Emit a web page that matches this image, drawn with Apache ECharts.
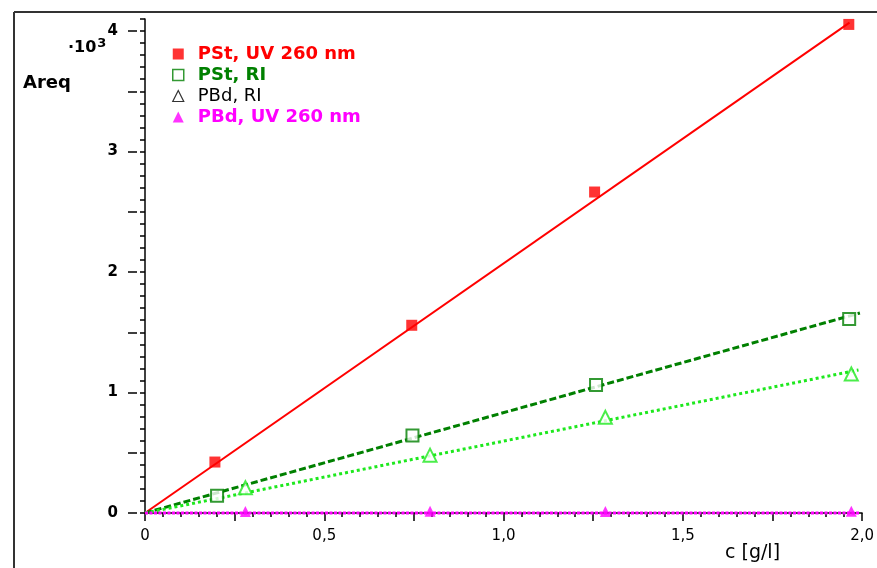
<!DOCTYPE html>
<html>
<head>
<meta charset="utf-8">
<script src="https://cdn.jsdelivr.net/npm/echarts@6/dist/echarts.min.js"></script>
<style>html,body{margin:0;padding:0;background:#fff;}#c{width:877px;height:568px;}</style>
</head>
<body>
<div id="c"></div>
<script>
// ---- data ----
const seriesNames = ['PSt, UV 260 nm', 'PSt, RI', 'PBd, RI', 'PBd, UV 260 nm'];
const pstUvX = [0.195, 0.744, 1.254, 1.963];
const pstUvY = [0.423, 1.558, 2.664, 4.055];
const pstRiX = [0.201, 0.746, 1.258, 1.964];
const pstRiY = [0.143, 0.643, 1.062, 1.610];
const pbdRiX = [0.280, 0.795, 1.284, 1.970];
const pbdRiY = [0.210, 0.480, 0.794, 1.154];
const pbdUvX = [0.280, 0.795, 1.284, 1.970];
const pbdUvY = [0.012, 0.015, 0.012, 0.015];
// regression lines (start / end)
const pstUvFitX = [0, 1.965];
const pstUvFitY = [0, 4.07];
const pstRiFitX = [0, 1.994];
const pstRiFitY = [0, 1.66];
const pbdRiFitX = [0, 1.99];
const pbdRiFitY = [0, 1.187];
const pbdUvFitX = [0, 1.995];
const pbdUvFitY = [0, 0];
// tick labels
const xTickLabels = ['0', '0,5', '1,0', '1,5', '2,0'];
const yTickLabels = ['0', '1', '2', '3', '4'];

const zip = (xs, ys) => xs.map((x, i) => [x, ys[i]]);
const yMinorTicks = Array.from({length: 42}, (_, i) => +(i * 0.1).toFixed(1));
const yMajorTicks = Array.from({length: 9}, (_, i) => i * 0.5);
const yLabelVals = yTickLabels.map(Number);

const RED = '#ff0000', DKGREEN = '#008000', LTGREEN = '#1ee81e', MAGENTA = '#ff00ff';
const FONT = 'DejaVu Sans';

const chart = echarts.init(document.getElementById('c'));
chart.setOption({
  animation: false,
  backgroundColor: '#ffffff',
  grid: {left: 145, right: 13, top: 19, bottom: 55, containLabel: false},
  xAxis: {
    type: 'value', min: 0, max: 2, interval: 0.25, offset: 6,
    splitLine: {show: false},
    axisLine: {show: true, lineStyle: {color: '#000', width: 1.5}},
    axisTick: {show: true, length: 8, lineStyle: {color: '#000', width: 1.5}},
    minorTick: {show: true, splitNumber: 5, length: 4, lineStyle: {color: '#000', width: 1.5}},
    minorSplitLine: {show: false},
    axisLabel: {
      margin: 10, color: '#000', fontFamily: FONT, fontSize: 15,
      formatter: v => {
        const k = Math.round(v * 2);
        return Math.abs(v * 2 - k) < 1e-6 ? xTickLabels[k] : '';
      }
    }
  },
  yAxis: [{
    type: 'value', min: 0, max: 4.1, offset: 8,
    splitLine: {show: false},
    axisLine: {show: true, lineStyle: {color: '#000', width: 1.5}},
    axisTick: {show: true, length: 5, customValues: yMinorTicks, lineStyle: {color: '#000', width: 1.5}},
    axisLabel: {show: false}
  }, {
    type: 'value', min: 0, max: 4.1, offset: 8, position: 'left',
    splitLine: {show: false},
    axisLine: {show: false},
    axisTick: {show: true, length: 9, customValues: yMajorTicks, lineStyle: {color: '#000', width: 1.5}},
    axisLabel: {
      show: true, margin: 19, customValues: yLabelVals, color: '#000',
      fontFamily: FONT, fontSize: 15, fontWeight: 'bold',
      formatter: v => yTickLabels[Math.round(v)]
    }
  }],
  legend: {
    orient: 'vertical', left: 167, top: 40, itemWidth: 11, itemHeight: 11, itemGap: 3,
    textStyle: {fontFamily: FONT, fontSize: 18, fontWeight: 'bold', lineHeight: 17, padding: [0, 0, 0, 9]},
    data: [
      {name: seriesNames[0], icon: 'rect', itemStyle: {color: RED, borderWidth: 0}, textStyle: {color: RED}},
      {name: seriesNames[1], icon: 'rect', itemStyle: {color: '#fff', borderColor: DKGREEN, borderWidth: 1.5}, textStyle: {color: DKGREEN}},
      {name: seriesNames[2], icon: 'triangle', itemStyle: {color: '#fff', borderColor: '#000', borderWidth: 1.2}, textStyle: {color: '#000', fontWeight: 'normal'}},
      {name: seriesNames[3], icon: 'triangle', itemStyle: {color: MAGENTA, borderWidth: 0}, textStyle: {color: MAGENTA}}
    ]
  },
  series: [
    {type: 'line', name: 'fit1', data: zip(pstUvFitX, pstUvFitY), showSymbol: false, symbol: 'none',
      lineStyle: {color: RED, width: 2}, z: 2, silent: true},
    {type: 'line', name: 'fit2', data: zip(pstRiFitX, pstRiFitY), showSymbol: false, symbol: 'none',
      lineStyle: {color: DKGREEN, width: 3, type: [7, 3]}, z: 2, silent: true},
    {type: 'line', name: 'fit3', data: zip(pbdRiFitX, pbdRiFitY), showSymbol: false, symbol: 'none',
      lineStyle: {color: LTGREEN, width: 3, type: [3, 3]}, z: 2, silent: true},
    {type: 'line', name: 'fit4', data: zip(pbdUvFitX, pbdUvFitY), showSymbol: false, symbol: 'none', clip: false,
      lineStyle: {color: MAGENTA, width: 3, type: [3, 1.5]}, z: 2, silent: true},
    {type: 'scatter', name: seriesNames[0], data: zip(pstUvX, pstUvY), symbol: 'rect', symbolSize: 11,
      itemStyle: {color: RED}, z: 5},
    {type: 'scatter', name: seriesNames[1], data: zip(pstRiX, pstRiY), symbol: 'emptyRect', symbolSize: 12,
      itemStyle: {color: DKGREEN, borderColor: DKGREEN, borderWidth: 2}, z: 5},
    {type: 'scatter', name: seriesNames[2], data: zip(pbdRiX, pbdRiY), symbol: 'emptyTriangle', symbolSize: 13,
      itemStyle: {color: LTGREEN, borderColor: LTGREEN, borderWidth: 2}, z: 5},
    {type: 'scatter', name: seriesNames[3], data: zip(pbdUvX, pbdUvY), symbol: 'triangle', symbolSize: 11, clip: false,
      itemStyle: {color: MAGENTA}, z: 5}
  ],
  graphic: [
    {type: 'line', shape: {x1: 14, y1: 12, x2: 877, y2: 12}, style: {stroke: '#333', lineWidth: 2}},
    {type: 'line', shape: {x1: 14, y1: 12, x2: 14, y2: 568}, style: {stroke: '#333', lineWidth: 2}},
    {type: 'text', left: 23, top: 74, style: {text: 'Areq', font: 'bold 18px "DejaVu Sans"', fill: '#000'}},
    {type: 'text', left: 68, top: 37, style: {
      text: '·10{s|3}', font: 'bold 16px "DejaVu Sans"', fill: '#000',
      rich: {s: {fontSize: 13, fontWeight: 'bold', fontFamily: FONT, verticalAlign: 'top', padding: [0, 0, 9, 1]}}
    }},
    {type: 'text', left: 725, top: 544, style: {text: 'c [g/l]', font: '19px "DejaVu Sans"', fill: '#000'}}
  ]
});
</script>
</body>
</html>
